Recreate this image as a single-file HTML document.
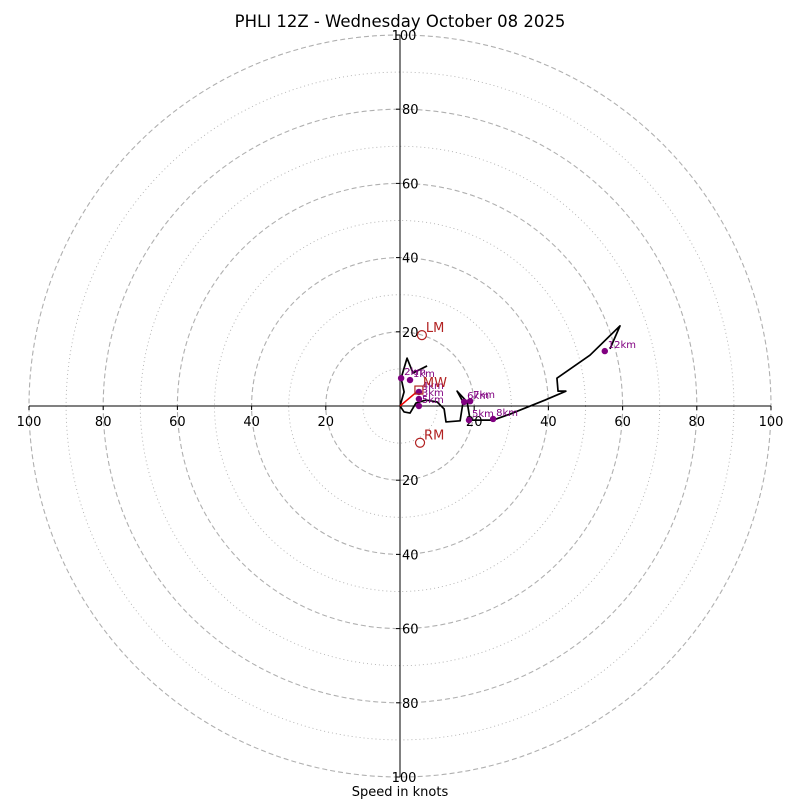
<!DOCTYPE html>
<html><head><meta charset="utf-8"><style>
body{margin:0;background:#fff}
svg{display:block;font-family:"DejaVu Sans","Liberation Sans",sans-serif}
</style></head><body>
<svg id="chart" width="800" height="800" viewBox="0 0 800 800">
<rect width="800" height="800" fill="#fff"/>
<text x="400" y="27" text-anchor="middle" font-size="16.5">PHLI 12Z - Wednesday October 08 2025</text>
<g id="rings"></g>
<g id="axes"></g>
<g id="marks"></g>
<text x="400" y="796" text-anchor="middle" font-size="13">Speed in knots</text>
</svg>
<script>
const cx=400, cy=406, scale=3.71;
const ringValues=[10,20,30,40,50,60,70,80,90,100];
const tickLabels=[20,40,60,80,100];
const hodoU=[7.3,3.5,1.9,0.3,1.1,0,1.1,2.7,4.3,7.0,10.0,11.9,12.4,16.2,17.0,15.4,18.1,18.9,25.1,29.6,39.1,44.7,42.6,42.3,51.2,59.3,56.6];
const hodoV=[10.8,8.9,12.9,7.5,3.8,0,-1.6,-1.9,0.8,1.6,1.1,-0.8,-4.3,-4.0,1.1,4.0,1.1,-3.8,-3.8,-2.2,1.6,4.0,4.0,7.5,13.7,21.6,15.4];
const markerLabels=["2km","1km","4km","3km","5km","6km","7km","5km","8km","12km"];
const markerU=[0.3,2.7,5.1,5.1,5.1,17.3,18.9,18.6,25.1,55.2];
const markerV=[7.5,7.0,3.8,1.9,0.0,1.1,1.3,-3.8,-3.5,14.8];
const motionLabels=["LM","RM","MW"];
const motionU=[5.9,5.4,5.1];
const motionV=[19.1,-9.9,4.3];
const NS="http://www.w3.org/2000/svg";
const X=u=>cx+u*scale, Y=v=>cy-v*scale;
function mk(tag,parent,attrs){const e=document.createElementNS(NS,tag);for(const k in attrs)e.setAttribute(k,attrs[k]);parent.appendChild(e);return e;}
const rings=document.getElementById('rings'), axes=document.getElementById('axes'), marks=document.getElementById('marks');
ringValues.forEach(r=>{
  const c=mk('circle',rings,{cx:cx,cy:cy,r:r*scale,fill:'none',stroke:'#b0b0b0','stroke-width':r%20===0?1.1:0.9,'stroke-dasharray':r%20===0?'5,3':'1,3'});
  
  
});
const ax1=mk('line',axes,{x1:X(-100),y1:cy,x2:X(100),y2:cy,stroke:'#000','stroke-width':1});


const ax2=mk('line',axes,{x1:cx,y1:Y(100),x2:cx,y2:Y(-100),stroke:'#000','stroke-width':1});


tickLabels.forEach(t=>{
  [-1,1].forEach(s=>{
    mk('line',axes,{x1:X(s*t),y1:cy,x2:X(s*t),y2:cy+4,stroke:'#000'});
    const tx=mk('text',axes,{x:X(s*t),y:cy+20,'text-anchor':'middle','font-size':13});
    tx.textContent=t;
    
    
    mk('line',axes,{x1:cx-4,y1:Y(s*t),x2:cx,y2:Y(s*t),stroke:'#000'});
    const ty=mk('text',axes,{x:t===100?cx+4:cx+2,y:Y(s*t)+5,'text-anchor':t===100?'middle':'start','font-size':13});
    ty.textContent=t;
    
    
  });
});
const pts=hodoU.map((u,i)=>X(u)+','+Y(hodoV[i])).join(' ');
const pl=mk('polyline',marks,{points:pts,fill:'none',stroke:'#000','stroke-width':1.7,'stroke-linejoin':'round'});


const ar=mk('line',marks,{x1:cx,y1:cy,x2:X(motionU[2]),y2:Y(motionV[2]),stroke:'#e00','stroke-width':1.5});


markerU.forEach((u,i)=>{
  const d=mk('circle',marks,{cx:X(u),cy:Y(markerV[i]),r:3.2,fill:'#800080'});
  
  
  const t=mk('text',marks,{x:X(u)+3,y:Y(markerV[i])-3,'font-size':10,fill:'#800080'});
  t.textContent=markerLabels[i];
  
  
});
motionLabels.forEach((l,i)=>{
  const x=X(motionU[i]), y=Y(motionV[i]);
  const m = l==='MW' ? mk('rect',marks,{x:x-4,y:y-4,width:8,height:8,fill:'none',stroke:'#b22222','stroke-width':1.2})
                     : mk('circle',marks,{cx:x,cy:y,r:4.5,fill:'none',stroke:'#b22222','stroke-width':1.2});
  
  
  const t=mk('text',marks,{x:x+4,y:y-3,'font-size':13,fill:'#b22222'});
  t.textContent=l;
  
  
});
</script>
</body></html>
